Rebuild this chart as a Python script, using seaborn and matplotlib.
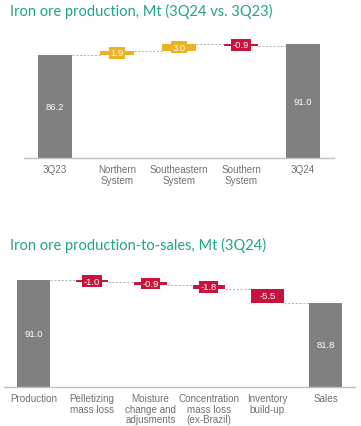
import matplotlib
matplotlib.use("Agg")
import matplotlib.pyplot as plt
import seaborn as sns
import numpy as np

# ---- data ----
top_title = "Iron ore production, Mt (3Q24 vs. 3Q23)"
top_cats = ["3Q23", "Northern\nSystem", "Southeastern\nSystem", "Southern\nSystem", "3Q24"]
top_start = 86.2
top_deltas = [1.9, 3.0, -0.9]
top_end = 91.0

bot_title = "Iron ore production-to-sales, Mt (3Q24)"
bot_cats = ["Production", "Pelletizing\nmass loss", "Moisture\nchange and\nadjusments",
            "Concentration\nmass loss\n(ex-Brazil)", "Inventory\nbuild-up", "Sales"]
bot_start = 91.0
bot_deltas = [-1.0, -0.9, -1.8, -5.5]
bot_end = 81.8

GRAY = "#808080"
GOLD = "#EEB024"
RED = "#C8143C"
TEAL = "#1FA584"
TICK = "#707070"

sns.set_theme(style="white")
plt.rcParams["font.family"] = ["Liberation Sans", "DejaVu Sans"]

fig = plt.figure(figsize=(3.61, 4.27), dpi=100)


def waterfall(ax, cats, start, deltas, end, ylim):
    bottoms, heights, colors = [ylim[0]], [start - ylim[0]], [GRAY]
    level = start
    levels = [start]
    for d in deltas:
        new = level + d
        bottoms.append(min(level, new))
        heights.append(abs(d))
        colors.append(GOLD if d > 0 else RED)
        level = new
        levels.append(level)
    bottoms.append(ylim[0])
    heights.append(end - ylim[0])
    colors.append(GRAY)
    levels.append(end)

    w = 0.56
    sns.barplot(x=cats, y=heights, bottom=bottoms, color=GRAY, width=w,
                errorbar=None, ax=ax, linewidth=0, saturation=1)
    for p, c in zip(ax.patches, colors):
        p.set_facecolor(c)
        p.set_edgecolor("none")

    # connectors
    n = len(cats)
    for i in range(n - 1):
        y = levels[i]
        ax.plot([i + w / 2, i + 1 - w / 2], [y, y], ls=(0, (2.5, 2)), lw=0.6,
                color="#A8A8A8", zorder=1)

    # labels
    ax.text(0, (ylim[0] + start) / 2, f"{start:.1f}", ha="center", va="center",
            color="white", fontsize=6.8)
    ax.text(n - 1, (ylim[0] + end) / 2, f"{end:.1f}", ha="center", va="center",
            color="white", fontsize=6.8)
    for i, d in enumerate(deltas):
        yc = bottoms[i + 1] + heights[i + 1] / 2
        ax.text(i + 1, yc, f"{d:.1f}", ha="center", va="center", color="white",
                fontsize=6.8,
                bbox=dict(boxstyle="square,pad=0.15", facecolor=colors[i + 1],
                          edgecolor="none"))

    ax.set_ylim(*ylim)
    ax.set_xlim(-0.5, n - 0.5)
    ax.set_yticks([])
    ax.set_ylabel("")
    ax.set_xlabel("")
    for s in ["top", "right", "left"]:
        ax.spines[s].set_visible(False)
    ax.spines["bottom"].set_color("#BFBFBF")
    ax.spines["bottom"].set_linewidth(1.0)
    ax.tick_params(axis="x", length=0, pad=4, labelsize=7.1, labelcolor=TICK)
    for lab in ax.get_xticklabels():
        lab.set_linespacing(1.1)


ax1 = fig.add_axes([24 / 361, 1 - 159.3 / 427, 310 / 361, 123.8 / 427])
waterfall(ax1, top_cats, top_start, top_deltas, top_end, (42.3, 95))

ax2 = fig.add_axes([4.3 / 361, 1 - 388.3 / 427, 350.7 / 361, 117.3 / 427])
waterfall(ax2, bot_cats, bot_start, bot_deltas, bot_end, (47.5, 95))

fig.text(10 / 361, 1 - 11 / 427, top_title, color=TEAL, fontsize=10.5,
         family=["Lato", "DejaVu Sans"], ha="left", va="center")
fig.text(10 / 361, 1 - 245 / 427, bot_title, color=TEAL, fontsize=10.5,
         family=["Lato", "DejaVu Sans"], ha="left", va="center")

fig.savefig("out.png", dpi=100)
